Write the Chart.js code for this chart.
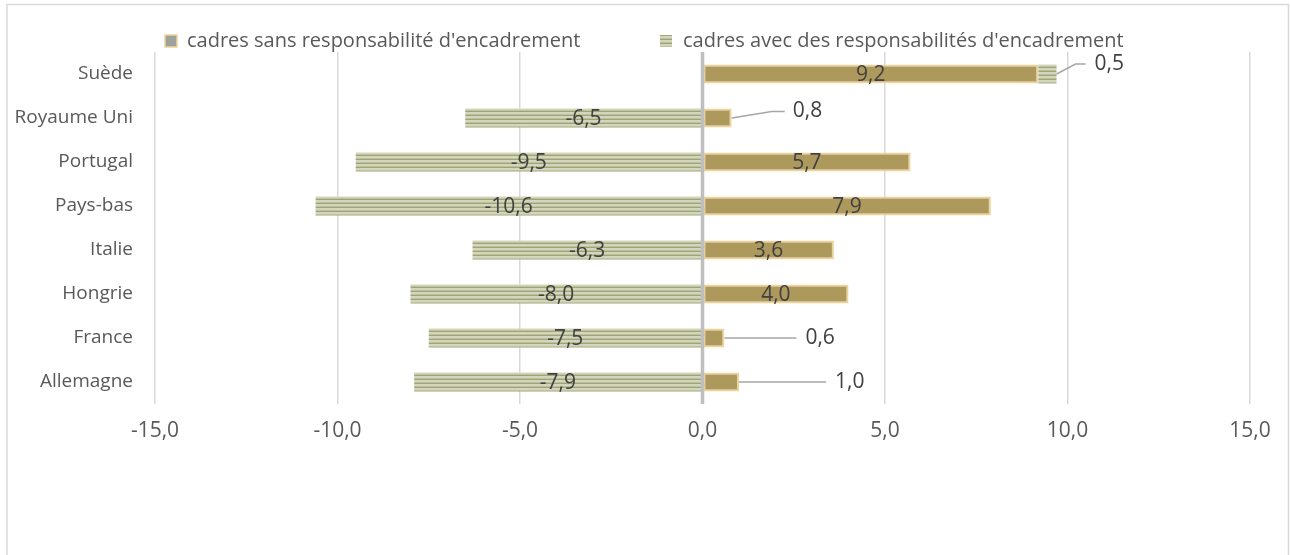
<!DOCTYPE html>
<html><head><meta charset="utf-8">
<script src="https://cdn.jsdelivr.net/npm/chart.js@4/dist/chart.umd.min.js"></script>
<style>html,body{margin:0;padding:0;background:#fff;}canvas{display:block;}</style>
</head><body>
<canvas id="c" width="1290" height="555"></canvas>
<script>
// ---- data ----
const categories = ['Suède', 'Royaume Uni', 'Portugal', 'Pays-bas', 'Italie', 'Hongrie', 'France', 'Allemagne'];
const sansValues = [9.2, 0.8, 5.7, 7.9, 3.6, 4.0, 0.6, 1.0];
const avecValues = [0.5, -6.5, -9.5, -10.6, -6.3, -8.0, -7.5, -7.9];
const seriesNames = ["cadres sans responsabilité d'encadrement", "cadres avec des responsabilités d'encadrement"];
const xTickValues = [-15, -10, -5, 0, 5, 10, 15];

// ---- styles ----
const FONT = "'Open Sans', sans-serif";
const fmt = v => v.toFixed(1).replace('.', ',');
// callout placement for small values (key: datasetIndex:index) relative to bar end
const callouts = {
  '1:0': {elbow: [19, -10], end: [29, -10], text: 38},
  '0:1': {elbow: [40, -6.5], end: [53, -6.5], text: 61},
  '0:6': {elbow: null, end: [72, 0], text: 81},
  '0:7': {elbow: null, end: [87, 0], text: 96}
};

const canvas = document.getElementById('c');
const ctx0 = canvas.getContext('2d');
function makeStripes() {
  const c = document.createElement('canvas');
  c.width = 4; c.height = 4;
  const g = c.getContext('2d');
  g.fillStyle = '#D3D6BC'; g.fillRect(0, 0, 4, 4);
  g.fillStyle = '#BDC19C'; g.fillRect(0, 2, 4, 1);
  g.fillStyle = '#9EA477'; g.fillRect(0, 3, 4, 1);
  return ctx0.createPattern(c, 'repeat');
}
const stripes = makeStripes();

const framePlugin = {
  id: 'frame',
  beforeDraw(chart) {
    const c = chart.ctx;
    c.save();
    c.strokeStyle = '#D9D9D9';
    c.lineWidth = 1.5;
    c.strokeRect(7, 4.5, 1281.5, 600);
    c.restore();
  }
};

const overlayPlugin = {
  id: 'overlay',
  afterDatasetsDraw(chart) {
    const c = chart.ctx;
    const xs = chart.scales.x, area = chart.chartArea;
    // zero line on top
    const x0 = xs.getPixelForValue(0);
    c.save();
    c.strokeStyle = '#BFBFBF';
    c.lineWidth = 3.5;
    c.beginPath(); c.moveTo(x0, area.top); c.lineTo(x0, area.bottom); c.stroke();
    // data labels
    c.font = '21px ' + FONT;
    c.fillStyle = '#404040';
    c.textBaseline = 'middle';
    chart.data.datasets.forEach((ds, di) => {
      const meta = chart.getDatasetMeta(di);
      meta.data.forEach((bar, i) => {
        const v = ds.data[i];
        const key = di + ':' + i;
        const co = callouts[key];
        if (co) {
          const xe = bar.x, yc = bar.y;
          c.strokeStyle = '#A6A6A6';
          c.lineWidth = 1.5;
          c.beginPath();
          c.moveTo(xe, yc);
          if (co.elbow) c.lineTo(xe + co.elbow[0], yc + co.elbow[1]);
          c.lineTo(xe + co.end[0], yc + co.end[1]);
          c.stroke();
          c.textAlign = 'left';
          c.fillText(fmt(v), xe + co.text, yc + co.end[1]);
        } else {
          c.textAlign = 'center';
          c.fillText(fmt(v), (bar.x + bar.base) / 2, bar.y + 1);
        }
      });
    });
    c.restore();
  },
  afterDraw(chart) {
    const c = chart.ctx;
    c.save();
    c.font = '20px ' + FONT;
    c.textBaseline = 'middle';
    c.textAlign = 'left';
    // legend item 1
    c.fillStyle = '#9DA39A';
    c.fillRect(165, 35, 12, 12);
    c.strokeStyle = '#EDD39C'; c.lineWidth = 1.5;
    c.strokeRect(165, 35, 12, 12);
    c.fillStyle = '#595959';
    c.fillText(seriesNames[0], 187, 41);
    // legend item 2
    c.fillStyle = stripes;
    c.fillRect(660, 35, 12, 12);
    c.fillStyle = '#595959';
    c.fillText(seriesNames[1], 683, 41);
    c.restore();
  }
};

new Chart(canvas, {
  type: 'bar',
  data: {
    labels: categories,
    datasets: [
      {
        label: seriesNames[0],
        data: sansValues,
        backgroundColor: '#AD995C',
        borderColor: '#EDD39C',
        borderWidth: 2,
        borderSkipped: false,
        barPercentage: 0.43,
        categoryPercentage: 1
      },
      {
        label: seriesNames[1],
        data: avecValues,
        backgroundColor: stripes,
        borderColor: '#C2C5A6',
        borderWidth: 0,
        barPercentage: 0.43,
        categoryPercentage: 1
      }
    ]
  },
  options: {
    indexAxis: 'y',
    responsive: false,
    animation: false,
    layout: {padding: {left: 0, right: 40, top: 52, bottom: 0}},
    plugins: {legend: {display: false}, tooltip: {enabled: false}},
    scales: {
      x: {
        stacked: true,
        min: -15, max: 15,
        afterBuildTicks: s => { s.ticks = xTickValues.map(v => ({value: v})); },
        afterFit: s => { s.height = 555 - 404; },
        ticks: {
          callback: v => fmt(v),
          color: '#595959',
          font: {family: FONT, size: 21},
          padding: 14
        },
        grid: {color: '#D9D9D9', lineWidth: 1.5, drawTicks: false},
        border: {display: false}
      },
      y: {
        stacked: true,
        afterFit: s => { s.width = 155; },
        ticks: {
          color: '#595959',
          font: {family: FONT, size: 19},
          padding: 22
        },
        grid: {display: false, drawTicks: false},
        border: {display: false}
      }
    }
  },
  plugins: [framePlugin, overlayPlugin]
});
</script>
</body></html>
